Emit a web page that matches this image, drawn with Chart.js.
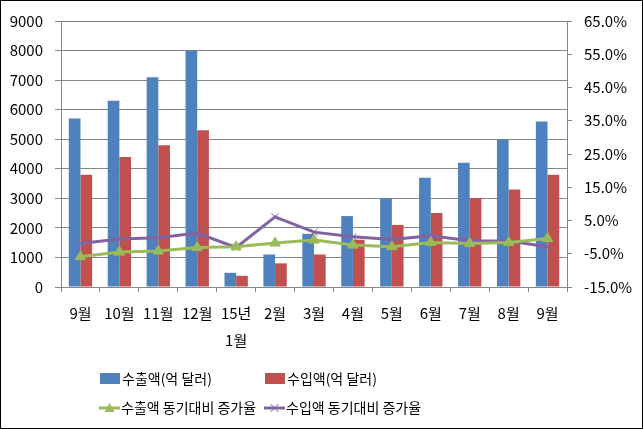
<!DOCTYPE html>
<html>
<head>
<meta charset="utf-8">
<script src="https://cdn.jsdelivr.net/npm/chart.js@4/dist/chart.umd.min.js"></script>
<style>
  body { margin: 0; background: #fff; }
  #wrap { width: 643px; height: 429px; position: relative; }
</style>
</head>
<body>
<div id="wrap"><canvas id="tradeChart" width="643" height="429"></canvas></div>
<script>
var months = ['9월', '10월', '11월', '12월', ['15년', '1월'], '2월', '3월', '4월', '5월', '6월', '7월', '8월', '9월'];
var exportAmount = [5700, 6300, 7100, 8000, 480, 1100, 1800, 2400, 3000, 3700, 4200, 5000, 5600];
var importAmount = [3800, 4400, 4800, 5300, 380, 800, 1100, 1600, 2100, 2500, 3000, 3300, 3800];
var exportGrowth = [-5.9, -4.5, -4.2, -3.1, -2.9, -1.8, -0.9, -2.4, -2.9, -1.6, -1.9, -1.6, -0.4];
var importGrowth = [-1.9, -0.6, -0.2, 1.2, -3.1, 6.1, 1.5, 0.1, -0.7, 0.4, -1.1, -1.2, -2.9];

var blue = '#4F81BD', red = '#C0504D', green = '#9BBB59', purple = '#8064A2';
var gridColor = '#868686';
var fontFamily = '"Noto Sans CJK KR", "Noto Sans", sans-serif';

Chart.defaults.font.family = fontFamily;
Chart.defaults.font.size = 15;
Chart.defaults.color = '#000';

// legend laid out in a 2x2 grid like the original
var gridLegend = {
    id: 'gridLegend',
    afterDraw: function(chart) {
        var ctx = chart.ctx;
        ctx.save();
        ctx.font = '14px ' + fontFamily;
        ctx.fillStyle = '#000';
        ctx.textBaseline = 'middle';
        var items = [
            {x: 100, y: 379, type: 'box', color: blue, text: '수출액(억 달러)'},
            {x: 265, y: 379, type: 'box', color: red, text: '수입액(억 달러)'},
            {x: 99, y: 408, type: 'tri', color: green, text: '수출액 동기대비 증가율'},
            {x: 264, y: 408, type: 'cross', color: purple, text: '수입액 동기대비 증가율'}
        ];
        items.forEach(function(it) {
            if (it.type === 'box') {
                ctx.fillStyle = it.color;
                ctx.fillRect(it.x, it.y - 6, 20, 11);
            } else {
                ctx.strokeStyle = it.color;
                ctx.lineWidth = 3;
                ctx.beginPath();
                ctx.moveTo(it.x, it.y);
                ctx.lineTo(it.x + 21, it.y);
                ctx.stroke();
                var cx = it.x + 10.5;
                if (it.type === 'tri') {
                    ctx.fillStyle = it.color;
                    ctx.beginPath();
                    ctx.moveTo(cx, it.y - 5);
                    ctx.lineTo(cx + 5, it.y + 4);
                    ctx.lineTo(cx - 5, it.y + 4);
                    ctx.closePath();
                    ctx.fill();
                } else {
                    ctx.lineWidth = 1;
                    ctx.beginPath();
                    ctx.moveTo(cx - 4, it.y - 4); ctx.lineTo(cx + 4, it.y + 4);
                    ctx.moveTo(cx + 4, it.y - 4); ctx.lineTo(cx - 4, it.y + 4);
                    ctx.stroke();
                }
            }
            ctx.fillStyle = '#000';
            ctx.fillText(it.text, it.x + 22, it.y);
        });
        ctx.strokeStyle = '#000';
        ctx.lineWidth = 1;
        ctx.strokeRect(0.5, 0.5, chart.width - 1, chart.height - 1);
        ctx.restore();
    }
};

new Chart(document.getElementById('tradeChart').getContext('2d'), {
    type: 'bar',
    data: {
        labels: months,
        datasets: [{
            type: 'line',
            label: '수출액 동기대비 증가율',
            data: exportGrowth,
            yAxisID: 'yPct',
            borderColor: green,
            backgroundColor: green,
            borderWidth: 3,
            pointStyle: 'triangle',
            pointRadius: 6,
            pointBorderWidth: 1,
            tension: 0,
            order: 0
        }, {
            type: 'line',
            label: '수입액 동기대비 증가율',
            data: importGrowth,
            yAxisID: 'yPct',
            borderColor: purple,
            backgroundColor: purple,
            borderWidth: 3,
            pointStyle: 'crossRot',
            pointRadius: 5,
            pointBorderWidth: 1,
            tension: 0,
            order: 0
        }, {
            label: '수출액(억 달러)',
            data: exportAmount,
            yAxisID: 'y',
            backgroundColor: blue,
            categoryPercentage: 0.6,
            barPercentage: 1.0,
            order: 1
        }, {
            label: '수입액(억 달러)',
            data: importAmount,
            yAxisID: 'y',
            backgroundColor: red,
            categoryPercentage: 0.6,
            barPercentage: 1.0,
            order: 1
        }]
    },
    options: {
        responsive: false,
        animation: false,
        layout: {
            padding: {top: 21, left: 0, right: 0, bottom: 72}
        },
        plugins: {
            legend: {display: false},
            tooltip: {enabled: false}
        },
        scales: {
            x: {
                grid: {display: true, drawOnChartArea: false, drawTicks: true, tickLength: 5, color: gridColor, offset: true},
                border: {color: gridColor},
                ticks: {padding: 8, maxRotation: 0, autoSkip: false, font: {size: 15, lineHeight: 1.8}},
                afterFit: function(scale) { scale.height = 70; }
            },
            y: {
                position: 'left',
                min: 0,
                max: 9000,
                ticks: {
                    stepSize: 1000,
                    padding: 12,
                    callback: function(v) { return String(v); }
                },
                grid: {color: gridColor, tickLength: 6},
                border: {color: gridColor},
                afterFit: function(scale) { scale.width = 61; }
            },
            yPct: {
                position: 'right',
                min: -15,
                max: 65,
                ticks: {
                    stepSize: 10,
                    padding: 12,
                    callback: function(v) { return v.toFixed(1) + '%'; }
                },
                grid: {drawOnChartArea: false, color: gridColor, tickLength: 5},
                border: {color: gridColor},
                afterFit: function(scale) { scale.width = 76; }
            }
        }
    },
    plugins: [gridLegend]
});
</script>
</body>
</html>
